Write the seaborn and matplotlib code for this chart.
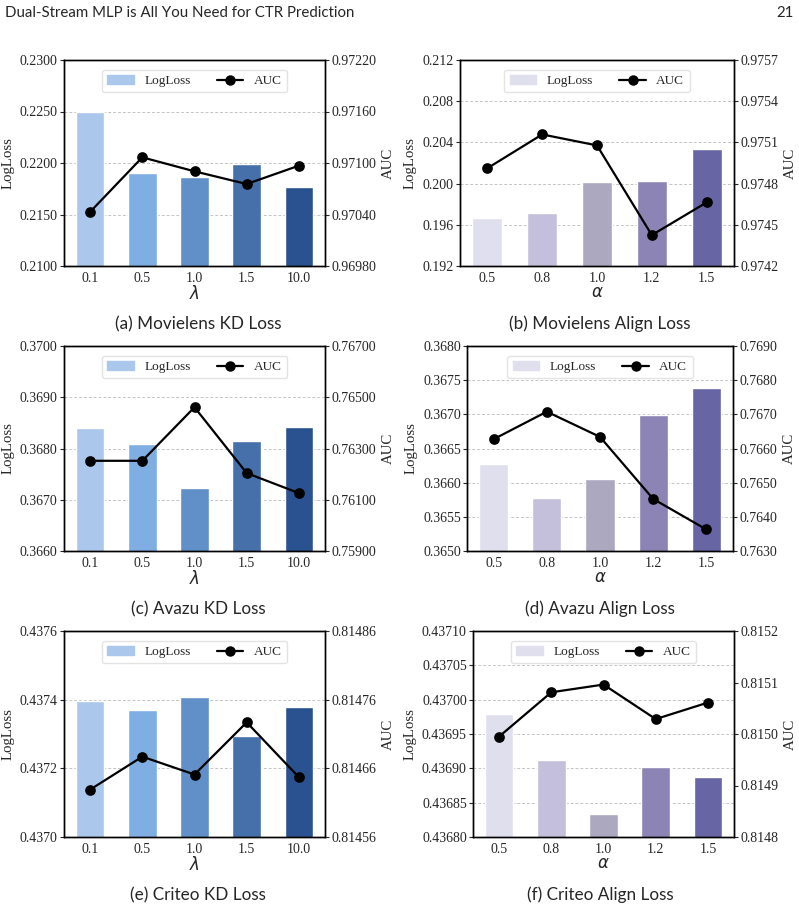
import numpy as np
import seaborn as sns
import matplotlib.pyplot as plt
from matplotlib.patches import Patch
from matplotlib.lines import Line2D

sns.set_style("white")
plt.rcParams['font.family'] = ['Liberation Serif', 'DejaVu Serif']
plt.rcParams['mathtext.fontset'] = 'dejavusans'

# valeurs
lam_ticks = ['0.1', '0.5', '1.0', '1.5', '10.0']
alpha_ticks = ['0.5', '0.8', '1.0', '1.2', '1.5']

ml_kd_logloss = [0.2250, 0.2190, 0.2186, 0.2199, 0.2177]
ml_kd_auc = [0.97043, 0.971066, 0.970903, 0.970755, 0.970969]
ml_al_logloss = [0.19668, 0.19717, 0.20016, 0.20026, 0.20338]
ml_al_auc = [0.974912, 0.975158, 0.975078, 0.974425, 0.974663]

av_kd_logloss = [0.36840, 0.36809, 0.36723, 0.36815, 0.36842]
av_kd_auc = [0.76252, 0.76252, 0.76461, 0.76204, 0.76126]
av_al_logloss = [0.366277, 0.365781, 0.366058, 0.36699, 0.367383]
av_al_auc = [0.766272, 0.767078, 0.76634, 0.764523, 0.76363]

cr_kd_logloss = [0.437397, 0.437371, 0.437408, 0.437295, 0.437379]
cr_kd_auc = [0.814629, 0.814677, 0.814651, 0.814727, 0.814647]
cr_al_logloss = [0.436979, 0.436912, 0.436833, 0.436902, 0.436887]
cr_al_auc = [0.814995, 0.815081, 0.815096, 0.815029, 0.815061]

blues = ['#abc8ec', '#7fafe2', '#6190c8', '#4670aa', '#2a5190']
purples = ['#e0dfee', '#c4c0db', '#aba8c0', '#8b84b4', '#6865a4']

W, H = 799, 911
fig = plt.figure(figsize=(W / 100, H / 100), dpi=100)


def px_axes(l, r, t, b):
    return fig.add_axes([l / W, 1 - b / H, (r - l) / W, (b - t) / H])


def panel(rect, ticks, loss, auc, colors, xlab, lticks, lfmt, rticks, rfmt):
    ax = px_axes(*rect)
    sns.barplot(x=ticks, y=loss, hue=ticks, palette=colors, legend=False,
                width=0.55, saturation=1, ax=ax, zorder=2)
    ax.set_ylim(lticks[0], lticks[-1])
    ax.set_yticks(lticks)
    ax.set_yticklabels([lfmt.format(v) for v in lticks])
    ax.yaxis.grid(True, linestyle=(0, (3, 2)), color='#c4c4c4', linewidth=0.7, zorder=0)
    ax.set_axisbelow(True)
    ax.set_xlabel(xlab, fontsize=12, labelpad=0)
    ax.set_ylabel('LogLoss', fontsize=10.7, labelpad=4)
    ax.tick_params(labelsize=10, length=3, width=0.8, pad=1.5, left=True, bottom=False)

    ax2 = ax.twinx()
    sns.pointplot(x=ticks, y=auc, color='black', markers='o', errorbar=None,
                  markersize=6.5, linewidth=1.6, ax=ax2)
    ax2.set_ylim(rticks[0], rticks[-1])
    ax2.set_yticks(rticks)
    ax2.set_yticklabels([rfmt.format(v) for v in rticks])
    ax2.set_ylabel('AUC', fontsize=10.7, labelpad=4)
    ax2.tick_params(labelsize=10, length=3, width=0.8, pad=1.5, right=True)
    ax.set_xlim(-0.5, 4.5)
    for a in (ax, ax2):
        for s in a.spines.values():
            s.set_color('black')
            s.set_linewidth(1.0)

    handles = [Patch(color=colors[0]),
               Line2D([], [], color='black', marker='o', markersize=6.5, linewidth=1.6)]
    ax2.legend(handles, ['LogLoss', 'AUC'], loc='upper center', ncol=2,
               fontsize=9.5, frameon=True, edgecolor='#dddddd', fancybox=True,
               handlelength=2.0, columnspacing=2.0, borderpad=0.4,
               bbox_to_anchor=(0.5, 0.985))
    return ax


panel((64, 325, 60, 266), lam_ticks, ml_kd_logloss, ml_kd_auc, blues, r'$\lambda$',
      [0.21, 0.215, 0.22, 0.225, 0.23], '{:.4f}',
      [0.9698, 0.9704, 0.9710, 0.9716, 0.9722], '{:.5f}')
panel((460, 734, 60, 266), alpha_ticks, ml_al_logloss, ml_al_auc, purples, r'$\alpha$',
      [0.192, 0.196, 0.200, 0.204, 0.208, 0.212], '{:.3f}',
      [0.9742, 0.9745, 0.9748, 0.9751, 0.9754, 0.9757], '{:.4f}')
panel((64, 325, 346, 551), lam_ticks, av_kd_logloss, av_kd_auc, blues, r'$\lambda$',
      [0.366, 0.367, 0.368, 0.369, 0.370], '{:.4f}',
      [0.759, 0.761, 0.763, 0.765, 0.767], '{:.5f}')
panel((467, 733, 346, 551), alpha_ticks, av_al_logloss, av_al_auc, purples, r'$\alpha$',
      [0.3650, 0.3655, 0.3660, 0.3665, 0.3670, 0.3675, 0.3680], '{:.4f}',
      [0.763, 0.764, 0.765, 0.766, 0.767, 0.768, 0.769], '{:.4f}')
panel((64, 325, 631, 837), lam_ticks, cr_kd_logloss, cr_kd_auc, blues, r'$\lambda$',
      [0.4370, 0.4372, 0.4374, 0.4376], '{:.4f}',
      [0.81456, 0.81466, 0.81476, 0.81486], '{:.5f}')
panel((473, 734, 631, 837), alpha_ticks, cr_al_logloss, cr_al_auc, purples, r'$\alpha$',
      [0.43680, 0.43685, 0.43690, 0.43695, 0.43700, 0.43705, 0.43710], '{:.5f}',
      [0.8148, 0.8149, 0.8150, 0.8151, 0.8152], '{:.4f}')

# légendes sous les graphes
caps = [(198, 324, '(a) Movielens KD Loss'), (600, 324, '(b) Movielens Align Loss'),
        (198, 609, '(c) Avazu KD Loss'), (600, 609, '(d) Avazu Align Loss'),
        (198, 895, '(e) Criteo KD Loss'), (600, 895, '(f) Criteo Align Loss')]
for x, y, t in caps:
    fig.text(x / W, 1 - y / H, t, ha='center', va='center', fontsize=12.3,
             family=['Lato', 'DejaVu Sans'])

fig.text(5 / W, 1 - 13 / H, 'Dual-Stream MLP is All You Need for CTR Prediction',
         ha='left', va='center', fontsize=10.8, family=['Lato', 'DejaVu Sans'])
fig.text(794 / W, 1 - 13 / H, '21', ha='right', va='center', fontsize=10.8,
         family=['Lato', 'DejaVu Sans'])

fig.savefig('out.png', dpi=100)
